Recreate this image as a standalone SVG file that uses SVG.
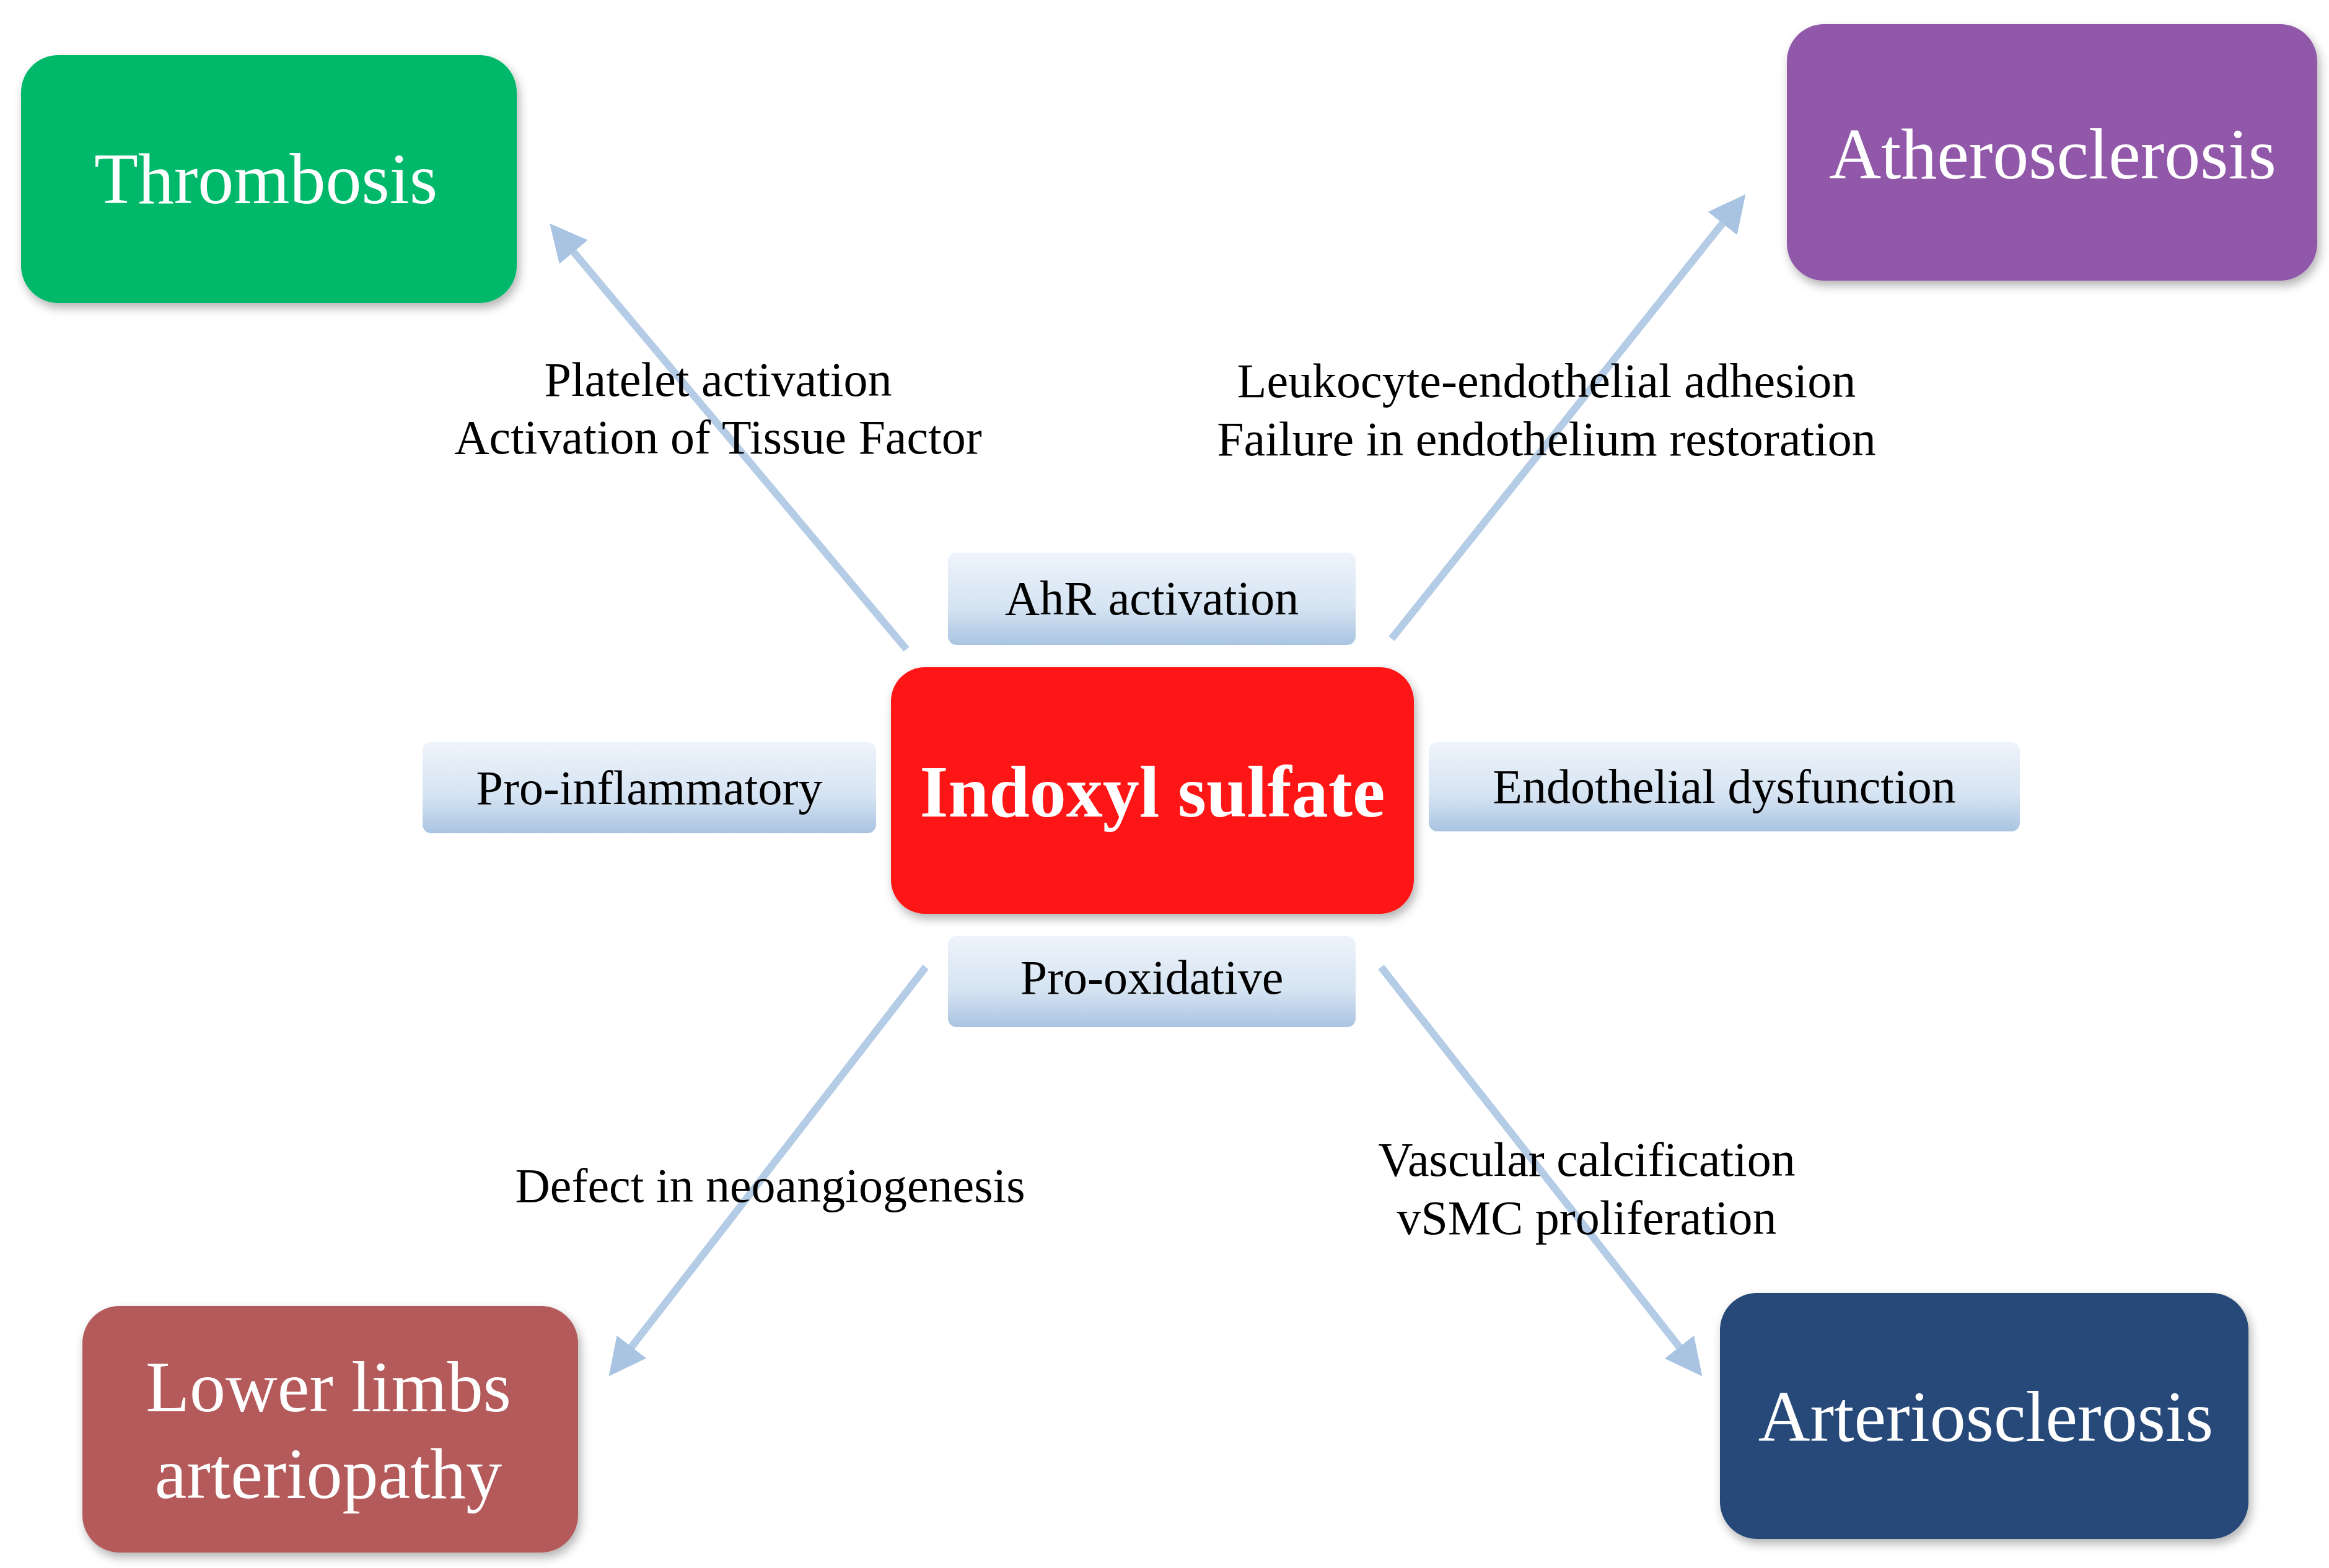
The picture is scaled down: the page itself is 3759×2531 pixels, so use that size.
<svg xmlns="http://www.w3.org/2000/svg" width="3759" height="2531" viewBox="0 0 3759 2531">
<defs>
<linearGradient id="lb" x1="0" y1="0" x2="0" y2="1"><stop offset="0" stop-color="#eef4fb"/><stop offset="0.6" stop-color="#d5e3f2"/><stop offset="1" stop-color="#a9c4e2"/></linearGradient>
<filter id="sh" x="-10%" y="-10%" width="130%" height="130%"><feDropShadow dx="4" dy="8" stdDeviation="8" flood-color="#000" flood-opacity="0.3"/></filter>
<marker id="ah" viewBox="0 0 10 10" refX="8" refY="5" markerWidth="5" markerHeight="5" orient="auto"><path d="M0,0 L10,5 L0,10 z" fill="#a9c4e2"/></marker>
</defs>
<style>
.big{font-family:"Liberation Serif",serif;fill:#fff;font-size:116px;text-anchor:middle}
.lbl{font-family:"Liberation Serif",serif;fill:#000;font-size:78px;text-anchor:middle}
.ar{stroke:#b4cce6;stroke-width:12;fill:none;marker-end:url(#ah)}
.pill{fill:url(#lb)}
</style>
<rect width="3759" height="2531" fill="#fff"/>
<g id="connectors">
<line class="ar" x1="1463" y1="1048" x2="895" y2="370"/>
<line class="ar" x1="2246" y1="1031" x2="2810" y2="323"/>
<line class="ar" x1="1494" y1="1561" x2="990" y2="2212"/>
<line class="ar" x1="2229" y1="1561" x2="2740" y2="2212"/>
</g>
<g id="thrombosis"><rect x="34" y="89" width="800" height="400" rx="60" fill="#00b86b" filter="url(#sh)"/><text class="big" x="429" y="328">Thrombosis</text></g>
<g id="atherosclerosis"><rect x="2884" y="39" width="856" height="414" rx="60" fill="#9158a9" filter="url(#sh)"/><text class="big" x="3313" y="288">Atherosclerosis</text></g>
<g id="lowerlimbs"><rect x="133" y="2108" width="800" height="398" rx="60" fill="#b45a5a" filter="url(#sh)"/><text class="big" x="530" y="2278">Lower limbs</text><text class="big" x="530" y="2418">arteriopathy</text></g>
<g id="arteriosclerosis"><rect x="2776" y="2087" width="853" height="397" rx="60" fill="#264a7a" filter="url(#sh)"/><text class="big" x="3205" y="2326">Arteriosclerosis</text></g>
<g id="indoxyl"><rect x="1438" y="1077" width="844" height="398" rx="55" fill="#fe1519" filter="url(#sh)"/><text x="1860" y="1318" font-family="Liberation Serif,serif" font-weight="bold" font-size="118" fill="#fff" text-anchor="middle">Indoxyl sulfate</text></g>
<g id="ahr"><rect class="pill" x="1530" y="892" width="658" height="149" rx="14"/><text class="lbl" x="1859" y="992">AhR activation</text></g>
<g id="proinflam"><rect class="pill" x="682" y="1198" width="732" height="147" rx="14"/><text class="lbl" x="1048" y="1298">Pro-inflammatory</text></g>
<g id="endo"><rect class="pill" x="2306" y="1198" width="954" height="144" rx="14"/><text class="lbl" x="2783" y="1296">Endothelial dysfunction</text></g>
<g id="proox"><rect class="pill" x="1530" y="1511" width="658" height="147" rx="14"/><text class="lbl" x="1859" y="1604">Pro-oxidative</text></g>
<g id="labels">
<text class="lbl" x="1159" y="639">Platelet activation</text>
<text class="lbl" x="1159" y="732">Activation of Tissue Factor</text>
<text class="lbl" x="2496" y="641">Leukocyte-endothelial adhesion</text>
<text class="lbl" x="2496" y="735">Failure in endothelium restoration</text>
<text class="lbl" x="1243" y="1940">Defect in neoangiogenesis</text>
<text class="lbl" x="2561" y="1898">Vascular calcification</text>
<text class="lbl" x="2561" y="1992">vSMC proliferation</text>
</g>
</svg>
